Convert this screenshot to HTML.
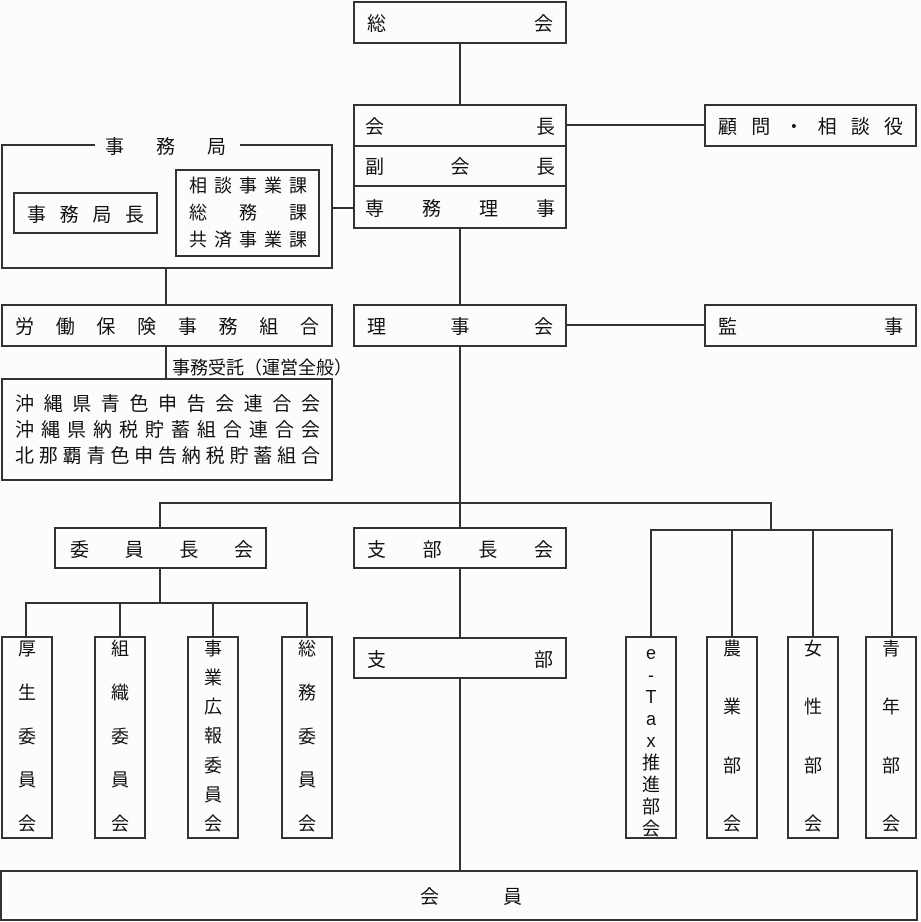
<!DOCTYPE html>
<html><head><meta charset="utf-8"><style>
html,body{margin:0;padding:0;background:#fcfcfc;}
body{width:921px;height:922px;position:relative;overflow:hidden;font-family:"Liberation Sans","Noto Sans CJK JP",sans-serif;color:#111;}
.b{position:absolute;box-sizing:border-box;border:2px solid #333;background:#fcfcfc;}
.h{display:flex;justify-content:space-between;align-items:center;padding:0 12px 0 12px;font-size:19px;}
.v{display:flex;flex-direction:column;justify-content:space-between;align-items:center;padding:0 0 2px 0;font-size:18px;line-height:22px;}
.l{position:absolute;background:#333;}
.t{position:absolute;font-size:18px;white-space:nowrap;}
</style></head><body>
<!-- lines -->
<div class="l" style="left:459px;top:43px;width:2px;height:62px"></div>
<div class="l" style="left:459px;top:228px;width:2px;height:76px"></div>
<div class="l" style="left:459px;top:346px;width:2px;height:181px"></div>
<div class="l" style="left:459px;top:568px;width:2px;height:69px"></div>
<div class="l" style="left:459px;top:678px;width:2px;height:192px"></div>
<div class="l" style="left:566px;top:124px;width:138px;height:2px"></div>
<div class="l" style="left:566px;top:324px;width:138px;height:2px"></div>
<div class="l" style="left:332px;top:207px;width:22px;height:2px"></div>
<div class="l" style="left:157px;top:212px;width:18px;height:2px"></div>
<div class="l" style="left:165px;top:268px;width:2px;height:36px"></div>
<div class="l" style="left:165px;top:346px;width:2px;height:32px"></div>
<div class="l" style="left:159px;top:502px;width:613px;height:2px"></div>
<div class="l" style="left:159px;top:502px;width:2px;height:25px"></div>
<div class="l" style="left:770px;top:502px;width:2px;height:28px"></div>
<div class="l" style="left:159px;top:568px;width:2px;height:35px"></div>
<div class="l" style="left:25px;top:602px;width:283px;height:2px"></div>
<div class="l" style="left:25px;top:602px;width:2px;height:35px"></div>
<div class="l" style="left:119px;top:602px;width:2px;height:35px"></div>
<div class="l" style="left:212px;top:602px;width:2px;height:35px"></div>
<div class="l" style="left:306px;top:602px;width:2px;height:35px"></div>
<div class="l" style="left:650px;top:529px;width:243px;height:2px"></div>
<div class="l" style="left:650px;top:529px;width:2px;height:108px"></div>
<div class="l" style="left:731px;top:529px;width:2px;height:108px"></div>
<div class="l" style="left:812px;top:529px;width:2px;height:108px"></div>
<div class="l" style="left:891px;top:529px;width:2px;height:108px"></div>

<!-- top -->
<div class="b h" style="left:353px;top:1px;width:214px;height:43px"><span>総</span><span>会</span></div>
<div class="b" style="left:353px;top:104px;width:214px;height:125px"></div>
<div class="h" style="position:absolute;left:355px;top:106px;width:210px;height:41px;box-sizing:border-box;padding:0 10px;border-bottom:2px solid #333"><span>会</span><span>長</span></div>
<div class="h" style="position:absolute;left:355px;top:146px;width:210px;height:41px;box-sizing:border-box;padding:0 10px;border-bottom:2px solid #333"><span>副</span><span>会</span><span>長</span></div>
<div class="h" style="position:absolute;left:355px;top:187px;width:210px;height:40px;box-sizing:border-box;padding:0 10px"><span>専</span><span>務</span><span>理</span><span>事</span></div>
<div class="b h" style="left:704px;top:104px;width:213px;height:43px;padding:0 12px"><span>顧</span><span>問</span><span>・</span><span>相</span><span>談</span><span>役</span></div>

<!-- 事務局 -->
<div class="b" style="left:1px;top:144px;width:332px;height:125px"></div>
<div class="h" style="position:absolute;left:95px;top:134px;width:145px;height:22px;background:#fcfcfc;box-sizing:border-box;padding:0 14px 0 10px"><span>事</span><span>務</span><span>局</span></div>
<div class="b h" style="left:13px;top:192px;width:145px;height:42px;padding:0 12px"><span>事</span><span>務</span><span>局</span><span>長</span></div>
<div class="b" style="left:175px;top:169px;width:145px;height:88px;font-size:18px;line-height:27px;padding:2px 11px 0 12px">
<div style="display:flex;justify-content:space-between"><span>相</span><span>談</span><span>事</span><span>業</span><span>課</span></div>
<div style="display:flex;justify-content:space-between"><span>総</span><span>務</span><span>課</span></div>
<div style="display:flex;justify-content:space-between"><span>共</span><span>済</span><span>事</span><span>業</span><span>課</span></div>
</div>
<div class="b h" style="left:1px;top:304px;width:332px;height:43px"><span>労</span><span>働</span><span>保</span><span>険</span><span>事</span><span>務</span><span>組</span><span>合</span></div>
<div class="t" style="left:172px;top:354px">事務受託（運営全般）</div>
<div class="b" style="left:1px;top:378px;width:332px;height:103px;font-size:19px;line-height:26px;padding:12px 11px 0 12px">
<div style="display:flex;justify-content:space-between"><span>沖</span><span>縄</span><span>県</span><span>青</span><span>色</span><span>申</span><span>告</span><span>会</span><span>連</span><span>合</span><span>会</span></div>
<div style="display:flex;justify-content:space-between"><span>沖</span><span>縄</span><span>県</span><span>納</span><span>税</span><span>貯</span><span>蓄</span><span>組</span><span>合</span><span>連</span><span>合</span><span>会</span></div>
<div style="display:flex;justify-content:space-between"><span>北</span><span>那</span><span>覇</span><span>青</span><span>色</span><span>申</span><span>告</span><span>納</span><span>税</span><span>貯</span><span>蓄</span><span>組</span><span>合</span></div>
</div>

<div class="b h" style="left:353px;top:304px;width:214px;height:43px"><span>理</span><span>事</span><span>会</span></div>
<div class="b h" style="left:704px;top:304px;width:213px;height:43px"><span>監</span><span>事</span></div>

<div class="b h" style="left:54px;top:527px;width:213px;height:42px;padding:0 12px 0 14px"><span>委</span><span>員</span><span>長</span><span>会</span></div>
<div class="b h" style="left:353px;top:527px;width:214px;height:42px"><span>支</span><span>部</span><span>長</span><span>会</span></div>
<div class="b h" style="left:353px;top:637px;width:214px;height:42px"><span>支</span><span>部</span></div>

<div class="b v" style="left:1px;top:636px;width:52px;height:203px"><span>厚</span><span>生</span><span>委</span><span>員</span><span>会</span></div>
<div class="b v" style="left:94px;top:636px;width:52px;height:203px"><span>組</span><span>織</span><span>委</span><span>員</span><span>会</span></div>
<div class="b v" style="left:187px;top:636px;width:52px;height:203px"><span>事</span><span>業</span><span>広</span><span>報</span><span>委</span><span>員</span><span>会</span></div>
<div class="b v" style="left:281px;top:636px;width:52px;height:203px"><span>総</span><span>務</span><span>委</span><span>員</span><span>会</span></div>

<div class="b v" style="left:625px;top:636px;width:52px;height:203px;padding-top:4px"><span>e</span><span>-</span><span>T</span><span>a</span><span>x</span><span>推</span><span>進</span><span>部</span><span>会</span></div>
<div class="b v" style="left:706px;top:636px;width:52px;height:203px"><span>農</span><span>業</span><span>部</span><span>会</span></div>
<div class="b v" style="left:787px;top:636px;width:52px;height:203px"><span>女</span><span>性</span><span>部</span><span>会</span></div>
<div class="b v" style="left:865px;top:636px;width:52px;height:203px"><span>青</span><span>年</span><span>部</span><span>会</span></div>

<div class="b" style="left:0px;top:870px;width:918px;height:51px;font-size:19px"><span style="position:absolute;left:418px;top:10px">会</span><span style="position:absolute;left:501px;top:10px">員</span></div>
</body></html>
